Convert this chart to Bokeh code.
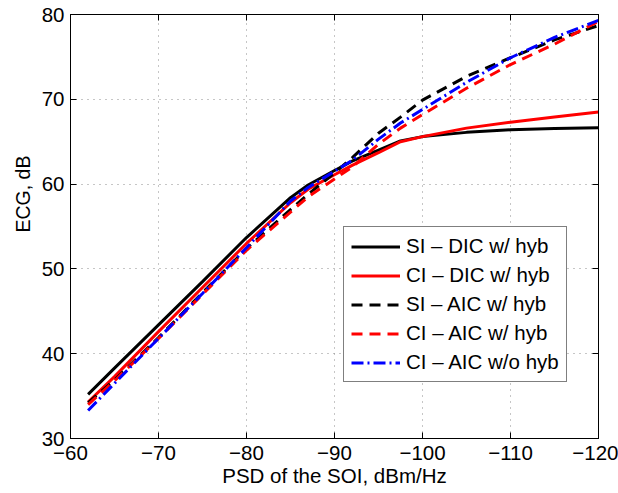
from bokeh.plotting import figure
from bokeh.models import Range1d, FixedTicker, LinearAxis, Legend, LegendItem, Title, CustomJSTickFormatter
from bokeh.embed import file_html
from bokeh.resources import INLINE

# ---- data ----
psd = [-62, -65, -70, -75, -80, -85, -87, -90, -92, -95, -97.5, -100, -105, -110, -115, -120]
si_dic_hyb = [35.2, 38.3, 43.4, 48.5, 53.7, 58.4, 59.9, 61.6, 62.7, 64.0, 65.1, 65.6, 66.1, 66.4, 66.55, 66.65]
ci_dic_hyb = [34.3, 37.3, 42.6, 47.8, 53.0, 57.8, 59.4, 61.1, 62.2, 63.7, 65.0, 65.6, 66.6, 67.3, 67.9, 68.5]
si_aic_hyb = [34.2, 36.9, 41.9, 47.2, 52.4, 57.0, 58.8, 61.3, 63.1, 66.0, 67.9, 69.9, 72.7, 74.9, 77.0, 78.7]
ci_aic_hyb = [34.0, 36.8, 41.8, 47.0, 52.2, 56.7, 58.5, 60.6, 62.0, 64.7, 66.6, 68.2, 71.3, 74.1, 76.5, 79.2]
ci_aic_nohyb = [33.3, 36.5, 41.8, 47.1, 52.5, 58.0, 59.6, 61.5, 62.8, 65.3, 67.2, 68.8, 72.0, 74.9, 77.3, 79.3]

series_names = ["SI \u2013 DIC w/ hyb", "CI \u2013 DIC w/ hyb", "SI \u2013 AIC w/ hyb",
                "CI \u2013 AIC w/ hyb", "CI \u2013 AIC w/o hyb"]

x_ticks = [-60, -70, -80, -90, -100, -110, -120]
x_tick_labels = ["\u221260", "\u221270", "\u221280", "\u221290", "\u2212100", "\u2212110", "\u2212120"]
y_ticks = [30, 40, 50, 60, 70, 80]
y_tick_labels = ["30", "40", "50", "60", "70", "80"]

x_label = "PSD of the SOI, dBm/Hz"
y_label = "ECG, dB"

FONT = "Liberation Sans"
FS = "20.5px"

p = figure(width=618, height=493, output_backend="svg", toolbar_location=None,
           x_range=Range1d(-60, -120), y_range=Range1d(30, 80),
           min_border_left=70, min_border_right=20, min_border_top=14, min_border_bottom=55,
           background_fill_color="white", border_fill_color="white")
p.outline_line_color = "black"
p.outline_line_width = 1

def style_axis(ax, ticks, labels, show_labels=True):
    ax.ticker = FixedTicker(ticks=ticks)
    ax.major_tick_in = 6
    ax.major_tick_out = 0
    ax.minor_tick_in = 0
    ax.minor_tick_out = 0
    ax.axis_line_color = "black"
    ax.major_tick_line_color = "black"
    ax.major_label_text_font = FONT
    ax.major_label_text_color = "black"
    ax.major_label_text_font_size = FS
    if show_labels:
        ax.major_label_overrides = {t: l for t, l in zip(ticks, labels)}
    else:
        ax.formatter = CustomJSTickFormatter(code="return ''")
        ax.major_label_standoff = 0

style_axis(p.xaxis[0], x_ticks, x_tick_labels)
style_axis(p.yaxis[0], y_ticks, y_tick_labels)
p.xaxis[0].major_label_standoff = 7
p.yaxis[0].major_label_standoff = 6

p.xaxis[0].axis_label = x_label
p.xaxis[0].axis_label_text_font = FONT
p.xaxis[0].axis_label_text_font_size = FS
p.xaxis[0].axis_label_text_font_style = "normal"
p.xaxis[0].axis_label_text_color = "black"
p.xaxis[0].axis_label_standoff = 1

top_ax = LinearAxis()
style_axis(top_ax, x_ticks, x_tick_labels, show_labels=False)
p.add_layout(top_ax, "above")
right_ax = LinearAxis()
style_axis(right_ax, y_ticks, y_tick_labels, show_labels=False)
p.add_layout(right_ax, "right")

ylab = Title(text=y_label, align="left", offset=206, standoff=10,
             text_font=FONT, text_font_size="19.5px", text_font_style="normal",
             text_color="black")
p.add_layout(ylab, "left")

p.xgrid.ticker = FixedTicker(ticks=x_ticks)
p.ygrid.ticker = FixedTicker(ticks=y_ticks)
p.grid.grid_line_color = "#8c8c8c"
p.grid.grid_line_dash = "1 5"
p.grid.grid_line_width = 1

LW = 3
r1 = p.line(psd, si_dic_hyb, line_color="black", line_width=LW)
r2 = p.line(psd, ci_dic_hyb, line_color="#ff0000", line_width=LW)
r3 = p.line(psd, si_aic_hyb, line_color="black", line_width=LW, line_dash="11 7")
r4 = p.line(psd, ci_aic_hyb, line_color="#ff0000", line_width=LW, line_dash="11 7")
r5 = p.line(psd, ci_aic_nohyb, line_color="#0000ff", line_width=LW, line_dash="12 4 2 4")

legend = Legend(items=[LegendItem(label=n, renderers=[r]) for n, r in
                       zip(series_names, [r1, r2, r3, r4, r5])],
                location=(273, 56),
                label_text_font=FONT, label_text_font_size=FS, label_text_color="black",
                glyph_width=49, glyph_height=21, label_height=21, label_standoff=6,
                spacing=5, padding=7, margin=0,
                border_line_color="black", border_line_width=1,
                background_fill_color="white", background_fill_alpha=1)
p.add_layout(legend, "center")

open("out.html", "w").write(file_html(p, INLINE))
